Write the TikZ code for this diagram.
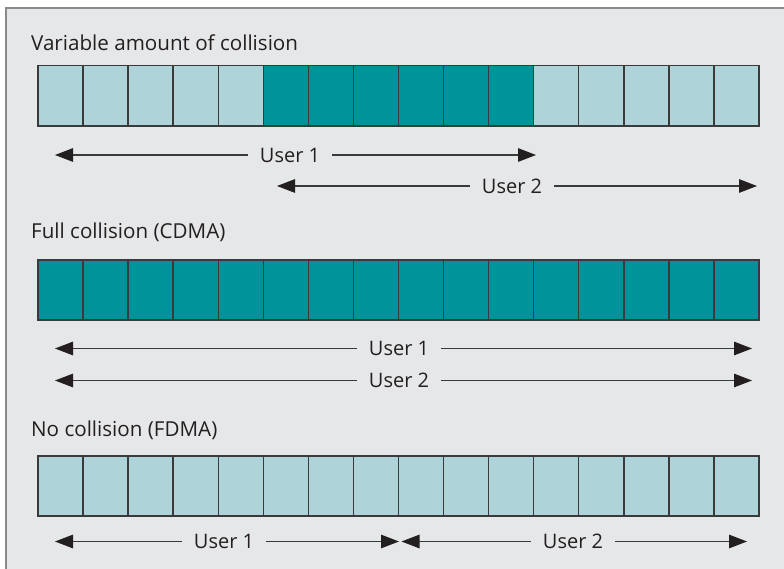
\documentclass[tikz,border=0pt]{standalone}
\usepackage{fontspec}
\setmainfont{Open Sans}
\usetikzlibrary{arrows.meta}
\definecolor{bgc}{HTML}{E6E7E8}
\definecolor{framec}{HTML}{8A8A8A}
\definecolor{lightc}{HTML}{AED4D9}
\definecolor{darkc}{HTML}{00939A}
\definecolor{linec}{HTML}{3A3A3A}
\definecolor{tipc}{HTML}{231F20}
\definecolor{txtc}{HTML}{231F20}
\tikzset{
  cell/.style={draw=linec, line width=1.4pt},
  title/.style={anchor=base west, inner sep=0pt, text=txtc, font=\fontsize{20.6}{24}\selectfont},
  userlbl/.style={fill=bgc, inner xsep=12pt, inner ysep=1pt, text=txtc, font=\fontsize{20}{24}\selectfont},
  span/.style={draw=linec, line width=1.3pt, {Triangle[length=18pt,width=13.5pt,color=tipc,fill=tipc]}-{Triangle[length=18pt,width=13.5pt,color=tipc,fill=tipc]}},
}
\begin{document}
\begin{tikzpicture}[x=1pt,y=-1pt]
\useasboundingbox (0,0) rectangle (784,569);
\fill[white] (0,0) rectangle (784,569);
\fill[bgc] (6,8) rectangle (784,569);
\draw[framec, line width=1.5pt] (6,569) -- (6,8) -- (784,8);
% titles
\node[title] (t1) at (31,51) {Variable amount of collision};
\node[title] (t2) at (31,239) {Full collision (CDMA)};
\node[title] (t3) at (31,436.5) {No collision (FDMA)};
% cells
\foreach \i in {0,...,15}{
  \pgfmathsetmacro{\xa}{38+\i*45.0625}
  \pgfmathsetmacro{\xb}{38+(\i+1)*45.0625}
  \pgfmathtruncatemacro{\dk}{(\i>4)&&(\i<11)}
  \ifnum\dk=1
    \filldraw[cell, fill=darkc] (\xa,65.5) rectangle (\xb,126);
  \else
    \filldraw[cell, fill=lightc] (\xa,65.5) rectangle (\xb,126);
  \fi
  \filldraw[cell, fill=darkc] (\xa,260) rectangle (\xb,320);
  \filldraw[cell, fill=lightc] (\xa,456) rectangle (\xb,516);
}
% arrows row 1
\coordinate (a1l) at (55,155);
\coordinate (a1r) at (536,155);
\coordinate (a2l) at (277,186);
\coordinate (a2r) at (757,186);
\draw[span] (a1l) -- (a1r);
\node[userlbl] (u1) at (290,155) {User 1};
\draw[span] (a2l) -- (a2r);
\node[userlbl] (u2) at (512,186) {User 2};
% arrows row 2
\coordinate (b1l) at (55,348.5);
\coordinate (b1r) at (752,348.5);
\coordinate (b2l) at (55,380.5);
\coordinate (b2r) at (752,380.5);
\draw[span] (b1l) -- (b1r);
\node[userlbl] (v1) at (399,348.5) {User 1};
\draw[span] (b2l) -- (b2r);
\node[userlbl] (v2) at (399,380.5) {User 2};
% arrows row 3
\coordinate (c1l) at (55,541.5);
\coordinate (c1r) at (399,541.5);
\coordinate (c2l) at (401.5,541.5);
\coordinate (c2r) at (747,541.5);
\draw[span] (c1l) -- (c1r);
\node[userlbl] (w1) at (224,541.5) {User 1};
\draw[span] (c2l) -- (c2r);
\node[userlbl] (w2) at (573,541.5) {User 2};
\end{tikzpicture}
\end{document}
